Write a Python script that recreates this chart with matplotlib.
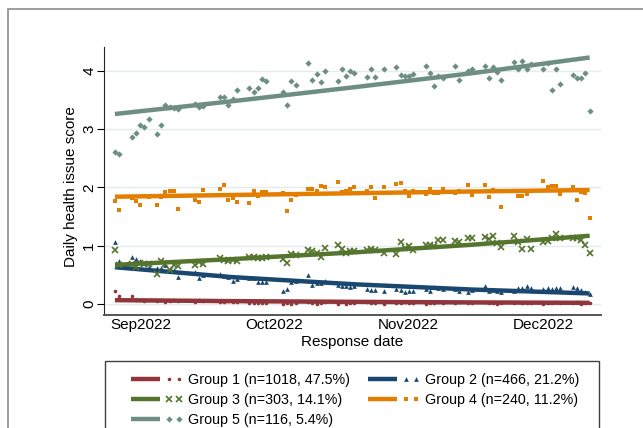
import numpy as np
import matplotlib.pyplot as plt
from matplotlib.lines import Line2D
from matplotlib.patches import Rectangle
from matplotlib.legend_handler import HandlerBase

plt.rcParams['font.family'] = ['Liberation Sans', 'DejaVu Sans']

# response day, counted from the first response date (26 Aug 2022)
day = [0, 1,
       4, 5, 6, 7, 8,
       10, 11, 12, 13, 14, 15,
       19, 20, 21,
       25, 26, 27, 28, 29,
       32, 33, 34, 35, 36,
       40, 41, 42, 43,
       46, 47, 48, 49, 50,
       53, 54, 55, 56, 57,
       60, 61, 62,
       64,
       67, 68, 69, 70, 71,
       74, 75, 76, 77, 78,
       81, 82,
       84, 85,
       88, 89, 90, 91, 92,
       95, 96, 97, 98, 99,
       102, 103, 104, 105, 106,
       109, 110, 111, 112, 113]

# daily mean health issue score per group
g1 = [0.23, 0.13,
      0.13, 0.07, 0.06, 0.05, 0.06,
      0.05, 0.06, 0.04, 0.05, 0.06, 0.05,
      0.04, 0.06, 0.05,
      0.04, 0.03, 0.05, 0.03, 0.04,
      0.01, 0.02, 0.01, 0.01, 0.02,
      0.00, 0.01, 0.00, 0.02,
      0.03, 0.01, 0.00, 0.02, 0.03,
      0.00, 0.03, 0.00, 0.01, 0.02,
      0.03, 0.01, 0.02,
      0.00,
      0.02, 0.01, 0.03, 0.01, 0.02,
      0.00, 0.01, 0.02, 0.04, 0.02,
      0.01, 0.03,
      0.02, 0.01,
      0.03, 0.02, 0.01, 0.00, 0.02,
      0.01, 0.03, 0.01, 0.02, 0.01,
      0.00, 0.02, 0.01, 0.03, 0.02,
      0.01, 0.03, 0.00, 0.02, 0.01]
g2 = [1.07, 0.74,
      0.80, 0.77, 0.73, 0.70, 0.63,
      0.62, 0.62, 0.67, 0.60, 0.58, 0.47,
      0.54, 0.44, 0.50,
      0.52, 0.48, 0.47, 0.40, 0.43,
      0.44, 0.45, 0.37, 0.37, 0.37,
      0.22, 0.25, 0.38, 0.40,
      0.50, 0.33, 0.36, 0.36, 0.40,
      0.33, 0.30, 0.31, 0.29, 0.30,
      0.25, 0.24, 0.24,
      0.23,
      0.25, 0.24, 0.20, 0.22, 0.22,
      0.25, 0.23, 0.29, 0.27, 0.26,
      0.25, 0.22,
      0.20, 0.24,
      0.30, 0.22, 0.24, 0.23, 0.20,
      0.23, 0.27, 0.27, 0.30, 0.27,
      0.26, 0.27, 0.25, 0.27, 0.27,
      0.29, 0.28, 0.24, 0.21, 0.17]
g3 = [0.93, 0.66,
      0.69, 0.63, 0.70, 0.69, 0.68,
      0.51, 0.73, 0.68, 0.58, 0.67, 0.65,
      0.67, 0.72, 0.68,
      0.78, 0.75, 0.74, 0.75, 0.74,
      0.80, 0.80, 0.78, 0.78, 0.80,
      0.77, 0.70, 0.85, 0.84,
      0.93, 0.90, 0.87, 0.80, 0.96,
      1.01, 0.95, 0.87, 0.91, 0.90,
      0.92, 0.95, 0.93,
      0.87,
      0.85, 1.07, 0.96, 1.00, 0.92,
      1.01, 1.02, 1.00, 1.10, 1.09,
      1.08, 1.07,
      1.13, 1.13,
      1.15, 1.11, 1.16, 1.04, 0.98,
      1.17, 1.07, 0.95, 1.11, 0.94,
      1.06, 1.08, 1.14, 1.20, 1.14,
      1.14, 1.13, 1.10, 1.01, 0.88]
g4 = [1.77, 1.61,
      1.81, 1.77, 1.70, 1.86, 1.84,
      1.69, 1.84, 1.92, 1.93, 1.93, 1.63,
      1.78, 1.75, 1.96,
      1.97, 2.04, 1.79, 1.82, 1.75,
      1.74, 1.94, 1.86, 1.92, 1.92,
      1.90, 1.60, 1.79, 1.87,
      1.98, 1.98, 1.94, 2.02, 2.00,
      2.10, 1.92, 1.93, 1.97, 2.01,
      1.94, 2.00, 1.82,
      2.01,
      2.05, 2.08, 1.94, 1.85, 1.93,
      1.89, 1.97, 1.91, 1.90, 1.97,
      1.90, 1.94,
      2.04, 1.87,
      2.04, 1.84, 1.96, 1.93, 1.67,
      1.94, 1.86, 1.85, 1.88, 1.93,
      2.11, 2.00, 2.02, 2.03, 1.89,
      2.00, 1.78, 1.92, 1.90, 1.48]
g5 = [2.60, 2.57,
      2.87, 2.93, 3.07, 3.04, 3.17,
      2.92, 3.07, 3.41, 3.38, 3.36, 3.34,
      3.43, 3.38, 3.40,
      3.55, 3.55, 3.41, 3.51, 3.67,
      3.70, 3.64, 3.70, 3.86, 3.83,
      3.64, 3.41, 3.82, 3.76,
      4.14, 3.84, 3.95, 3.81, 4.00,
      3.83, 4.03, 3.92, 3.99, 3.96,
      3.90, 4.03, 3.90,
      4.03,
      4.07, 3.93, 3.91, 3.92, 3.95,
      4.08, 3.97, 3.74, 3.92, 3.88,
      4.09, 3.84,
      4.00, 4.03,
      4.08, 3.87, 4.07, 3.98, 3.85,
      4.16, 4.03, 4.17, 4.04, 4.11,
      4.03, 4.14, 3.68, 4.03, 3.77,
      3.93, 3.87, 3.88, 3.97, 3.32]

# fitted trend per group, read at a few days
fit_day = [0, 28, 57, 85, 113]
fit1 = [0.065, 0.048, 0.036, 0.026, 0.019]
fit2 = [0.63, 0.46, 0.337, 0.247, 0.18]
fit3 = [0.67, 0.77, 0.885, 1.016, 1.17]
fit4 = [1.84, 1.87, 1.90, 1.93, 1.955]
fit5 = [3.26, 3.48, 3.72, 3.96, 4.23]

labels = ['Group 1 (n=1018, 47.5%)', 'Group 2 (n=466, 21.2%)',
          'Group 3 (n=303, 14.1%)', 'Group 4 (n=240, 11.2%)',
          'Group 5 (n=116, 5.4%)']
colors = ['#90353b', '#1a476f', '#55752f', '#e37e00', '#6e8e84']
markers = ['o', '^', 'x', 's', 'D']
msizes = [2.6, 3.4, 4.2, 2.6, 3.2]

month_pos = [6.1, 38.0, 69.8, 102.0]
month_lab = ['Sep2022', 'Oct2022', 'Nov2022', 'Dec2022']


class LineAndDots(HandlerBase):
    # thick line followed by two markers, as in the legend of the original
    def create_artists(self, legend, orig_handle, xdescent, ydescent,
                       width, height, fontsize, trans):
        ln, pts = orig_handle
        y = height / 2 - ydescent
        x0 = -xdescent
        line = Line2D([x0, x0 + 0.56 * width], [y, y])
        line.update_from(ln)
        dots = Line2D([x0 + 0.73 * width, x0 + 0.92 * width], [y, y])
        dots.update_from(pts)
        for a in (line, dots):
            a.set_clip_on(False)
            a.set_clip_box(None)
            a.set_transform(trans)
        return [line, dots]


W, H = 643, 428
fig = plt.figure(figsize=(W / 100, H / 100), dpi=100)
ax = fig.add_axes([104 / W, 1 - 315 / H, 497 / W, 268 / H])

points = [g1, g2, g3, g4, g5]
fits = [fit1, fit2, fit3, fit4, fit5]
handles = []
for i in range(5):
    pts, = ax.plot(day, points[i], ls='none', marker=markers[i], ms=msizes[i],
                   color=colors[i], mew=1.2 if markers[i] == 'x' else 0)
    ln, = ax.plot(fit_day, fits[i], color=colors[i], lw=3.2,
                  solid_capstyle='butt')
    handles.append((ln, pts))

ax.set_xlim(-2.6, 115.7)
ax.set_ylim(-0.19, 4.41)
ax.set_xticks(month_pos)
ax.set_xticklabels(month_lab, fontsize=11)
ax.set_yticks([0, 1, 2, 3, 4])
ax.set_yticklabels(['0', '1', '2', '3', '4'], fontsize=11, rotation=90, va='center')
ax.tick_params(axis='x', length=0, pad=2.5)
ax.tick_params(axis='y', length=5, width=0.8, pad=0.5)
ax.grid(axis='y', color='#e4ecee', lw=1.0)
ax.set_axisbelow(True)
for s in ['top', 'right']:
    ax.spines[s].set_visible(False)
ax.spines['left'].set_color('#222222')
ax.spines['bottom'].set_color('#555555')
ax.spines['bottom'].set_linewidth(1.4)
ax.set_xlabel('Response date', fontsize=11, labelpad=1.5)
ax.set_ylabel('Daily health issue score', fontsize=11)
ax.yaxis.set_label_coords(-0.052, 0.478)

# outer frame and legend box (both run past the image edge)
fig.patches.append(Rectangle((8 / W, -0.1), 1.0, 1 - 9 / H + 0.1, transform=fig.transFigure,
                             fill=False, edgecolor='#8c8c8c', lw=1.2))
fig.patches.append(Rectangle((105 / W, -0.1), (599 - 105) / W, 1 - 361 / H + 0.1,
                             transform=fig.transFigure, fill=False, edgecolor='#404040', lw=1.0))

order = [0, 2, 4, 1, 3]
fig.legend([handles[i] for i in order], [labels[i] for i in order],
           loc='upper left', bbox_to_anchor=(131 / W, 1 - 373 / H), frameon=False,
           ncol=2, borderpad=0, borderaxespad=0, handlelength=3.64, handletextpad=0.35,
           columnspacing=1.25, labelspacing=0.41, fontsize=10.3,
           handler_map={tuple: LineAndDots()})

fig.savefig('out.png', dpi=100)
